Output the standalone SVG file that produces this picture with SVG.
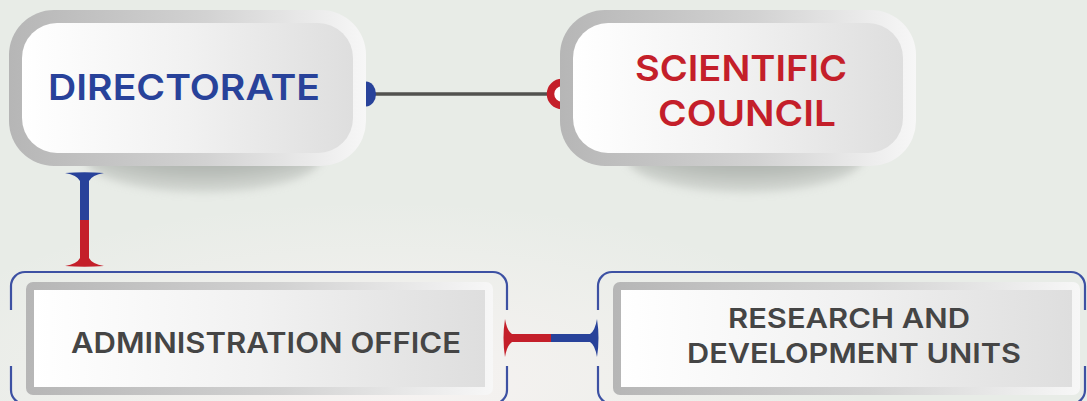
<svg xmlns="http://www.w3.org/2000/svg" width="1087" height="401" viewBox="0 0 1087 401">
  <style>
    .t { font-family: Inter, "Open Sans", "Liberation Sans", sans-serif; font-weight: 600; text-anchor: middle; }
    .blue { fill: #28429a; }
    .red { fill: #c41f2a; }
    .dark { fill: #454545; }
    .frame { fill: none; stroke: #3d51a3; stroke-width: 2.2; }
  </style>
  <defs>
    <linearGradient id="rim" x1="0" y1="0" x2="1" y2="0">
      <stop offset="0" stop-color="#b6b6b6"/>
      <stop offset="0.55" stop-color="#d2d2d2"/>
      <stop offset="1" stop-color="#f7f7f7"/>
    </linearGradient>
    <linearGradient id="face" x1="0" y1="0" x2="1" y2="0">
      <stop offset="0" stop-color="#ffffff"/>
      <stop offset="0.5" stop-color="#f1f1f1"/>
      <stop offset="1" stop-color="#dedede"/>
    </linearGradient>
    <radialGradient id="bgGlow" cx="0.35" cy="0.95" r="0.45">
      <stop offset="0" stop-color="#f7f3f2"/>
      <stop offset="1" stop-color="#f7f3f2" stop-opacity="0"/>
    </radialGradient>
    <radialGradient id="shade" cx="0.5" cy="0.3" r="0.6">
      <stop offset="0" stop-color="#8f958f"/>
      <stop offset="0.7" stop-color="#a9aea9"/>
      <stop offset="1" stop-color="#c5c9c4"/>
    </radialGradient>
    <filter id="blur" x="-30%" y="-50%" width="160%" height="200%">
      <feGaussianBlur stdDeviation="4"/>
    </filter>
  </defs>

  <!-- background -->
  <rect x="0" y="0" width="1087" height="401" fill="#e8ece7"/>
  <rect x="0" y="0" width="1087" height="401" fill="url(#bgGlow)"/>

  <!-- shadows -->
  <ellipse cx="203" cy="158" rx="118" ry="34" fill="url(#shade)" opacity="0.75" filter="url(#blur)"/>
  <ellipse cx="745" cy="158" rx="118" ry="34" fill="url(#shade)" opacity="0.75" filter="url(#blur)"/>

  <!-- connectors -->
  <g id="connectors">
    <line x1="372" y1="94" x2="552" y2="94" stroke="#52524f" stroke-width="3.5"/>
    <path d="M366,81.5 A10,12.5 0 0 1 366,106.5 Z" fill="#28429a"/>
    <circle cx="562" cy="94" r="11.5" fill="#ffffff" stroke="#c41f2a" stroke-width="7.5"/>

    <rect x="80" y="176" width="9" height="44" fill="#28429a"/>
    <rect x="80" y="220" width="9" height="44" fill="#c41f2a"/>
    <path d="M65,173 Q84.5,171.5 104,173 Q92,175 89,181 L80,181 Q77,175 65,173 Z" fill="#28429a"/>
    <path d="M65,266 Q84.5,267.5 104,266 Q92,264 89,258 L80,258 Q77,264 65,266 Z" fill="#c41f2a"/>

    <rect x="508" y="334" width="43" height="8" fill="#c41f2a"/>
    <rect x="551" y="334" width="43" height="8" fill="#28429a"/>
    <path d="M505,319 Q502,338 505,357 Q507,345 512,342 L512,334 Q507,331 505,319 Z" fill="#c41f2a"/>
    <path d="M597,319 Q600,338 597,357 Q595,345 590,342 L590,334 Q595,331 597,319 Z" fill="#28429a"/>
  </g>

  <!-- Directorate -->
  <g id="directorate">
    <rect x="9" y="10" width="357" height="156" rx="45" fill="url(#rim)"/>
    <rect x="22" y="23" width="331" height="130" rx="35" fill="url(#face)"/>
    <text class="t blue" x="184" y="100" font-size="36" textLength="272" lengthAdjust="spacingAndGlyphs">DIRECTORATE</text>
  </g>

  <!-- Scientific Council -->
  <g id="scientific-council">
    <rect x="560" y="10" width="356" height="156" rx="45" fill="url(#rim)"/>
    <rect x="573" y="23" width="330" height="130" rx="35" fill="url(#face)"/>
    <text class="t red" x="741" y="81" font-size="36" textLength="212" lengthAdjust="spacingAndGlyphs">SCIENTIFIC</text>
    <text class="t red" x="747" y="126" font-size="36" textLength="178" lengthAdjust="spacingAndGlyphs">COUNCIL</text>
  </g>

  <!-- Administration Office -->
  <g id="administration-office">
    <path class="frame" d="M11,310 V286 A14,14 0 0 1 25,272 H493 A14,14 0 0 1 507,286 V310 M507,366 V390 A14,14 0 0 1 493,404 H25 A14,14 0 0 1 11,390 V366"/>
    <rect x="26" y="282" width="467" height="113" rx="7" fill="url(#rim)"/>
    <rect x="34" y="290" width="451" height="97" fill="url(#face)"/>
    <text class="t dark" x="266" y="353" font-size="28" textLength="390" lengthAdjust="spacingAndGlyphs">ADMINISTRATION OFFICE</text>
  </g>

  <!-- Research and Development Units -->
  <g id="research-development">
    <path class="frame" d="M598,310 V286 A14,14 0 0 1 612,272 H1071 A14,14 0 0 1 1085,286 V310 M1085,366 V390 A14,14 0 0 1 1071,404 H612 A14,14 0 0 1 598,390 V366"/>
    <rect x="613" y="282" width="467" height="113" rx="7" fill="url(#rim)"/>
    <rect x="621" y="290" width="451" height="97" fill="url(#face)"/>
    <text class="t dark" x="849" y="328" font-size="27" textLength="242" lengthAdjust="spacingAndGlyphs">RESEARCH AND</text>
    <text class="t dark" x="854" y="363" font-size="27" textLength="334" lengthAdjust="spacingAndGlyphs">DEVELOPMENT UNITS</text>
  </g>
</svg>
